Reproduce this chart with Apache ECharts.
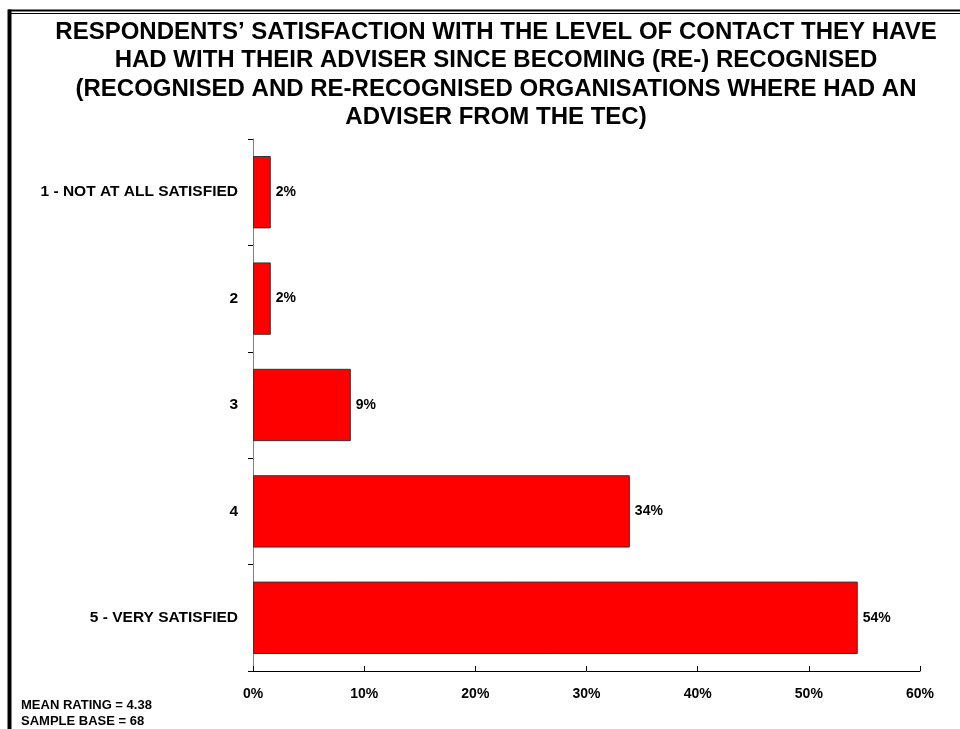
<!DOCTYPE html>
<html>
<head>
<meta charset="utf-8">
<script src="https://cdn.jsdelivr.net/npm/echarts@6/dist/echarts.min.js"></script>
<style>
  html, body { margin: 0; padding: 0; background: #fff; }
  #chart { width: 960px; height: 729px; }
</style>
</head>
<body>
<div id="chart"></div>
<script>
// Satisfaction ratings (share of respondents, %)
const categories = ['1 - NOT AT ALL SATISFIED', '2', '3', '4', '5 - VERY SATISFIED'];
const shares = [1.6, 1.6, 8.8, 33.9, 54.4];
const xTicks = { min: 0, max: 60, step: 10 };
const titleLines = [
  'RESPONDENTS\u2019 SATISFACTION WITH THE LEVEL OF CONTACT THEY HAVE',
  'HAD WITH THEIR ADVISER SINCE BECOMING (RE-) RECOGNISED',
  '(RECOGNISED AND RE-RECOGNISED ORGANISATIONS WHERE HAD AN',
  'ADVISER FROM THE TEC)'
];
const footnotes = ['MEAN RATING = 4.38', 'SAMPLE BASE = 68'];

const chart = echarts.init(document.getElementById('chart'), null, { renderer: 'canvas' });

const FONT = 'Liberation Sans, Arial, sans-serif';
const boldFont = { fontFamily: FONT, fontWeight: 'bold', color: '#000' };

chart.setOption({
  backgroundColor: '#fff',
  animation: false,
  title: {
    text: titleLines.join('\n'),
    left: 491,
    top: 13,
    textAlign: 'center',
    textStyle: Object.assign({}, boldFont, { fontSize: 24, lineHeight: 28.5 })
  },
  grid: { left: 253, right: 40, top: 139, bottom: 58, containLabel: false },
  xAxis: {
    type: 'value',
    min: xTicks.min,
    max: xTicks.max,
    interval: xTicks.step,
    axisLine: { show: true, lineStyle: { color: '#000', width: 1 } },
    axisTick: { show: true, inside: true, length: 5, lineStyle: { color: '#000' } },
    splitLine: { show: false },
    axisLabel: Object.assign({}, boldFont, {
      fontSize: 14,
      margin: 16,
      formatter: '{value}%'
    })
  },
  yAxis: {
    type: 'category',
    inverse: true,
    data: categories,
    boundaryGap: true,
    axisLine: { show: true, lineStyle: { color: '#808080', width: 1 } },
    axisTick: { show: true, length: 5, lineStyle: { color: '#000' } },
    axisLabel: Object.assign({}, boldFont, {
      fontSize: 15.5,
      margin: 15
    })
  },
  series: [{
    type: 'bar',
    data: shares,
    barCategoryGap: '32%',
    itemStyle: { color: '#ff0000', borderColor: '#333', borderWidth: 1 },
    label: {
      show: true,
      position: 'right',
      distance: 5,
      fontSize: 14,
      fontWeight: 'bold',
      fontFamily: FONT,
      color: '#000',
      formatter: p => Math.round(p.value) + '%'
    }
  }],
  graphic: [
    // page frame: thick rule on top and left, thin inner rule on top
    { type: 'line', shape: { x1: 8, y1: 10.5, x2: 960, y2: 10.5 }, style: { stroke: '#000', lineWidth: 2 } },
    { type: 'line', shape: { x1: 8, y1: 13.5, x2: 960, y2: 13.5 }, style: { stroke: '#000', lineWidth: 1 } },
    { type: 'line', shape: { x1: 9.5, y1: 9.5, x2: 9.5, y2: 729 }, style: { stroke: '#000', lineWidth: 4 } },
    {
      type: 'text', left: 21, top: 697,
      style: {
        text: footnotes.join('\n'),
        fontFamily: FONT, fontWeight: 'bold', fontSize: 13, lineHeight: 16, fill: '#000'
      }
    }
  ]
});
</script>
</body>
</html>
